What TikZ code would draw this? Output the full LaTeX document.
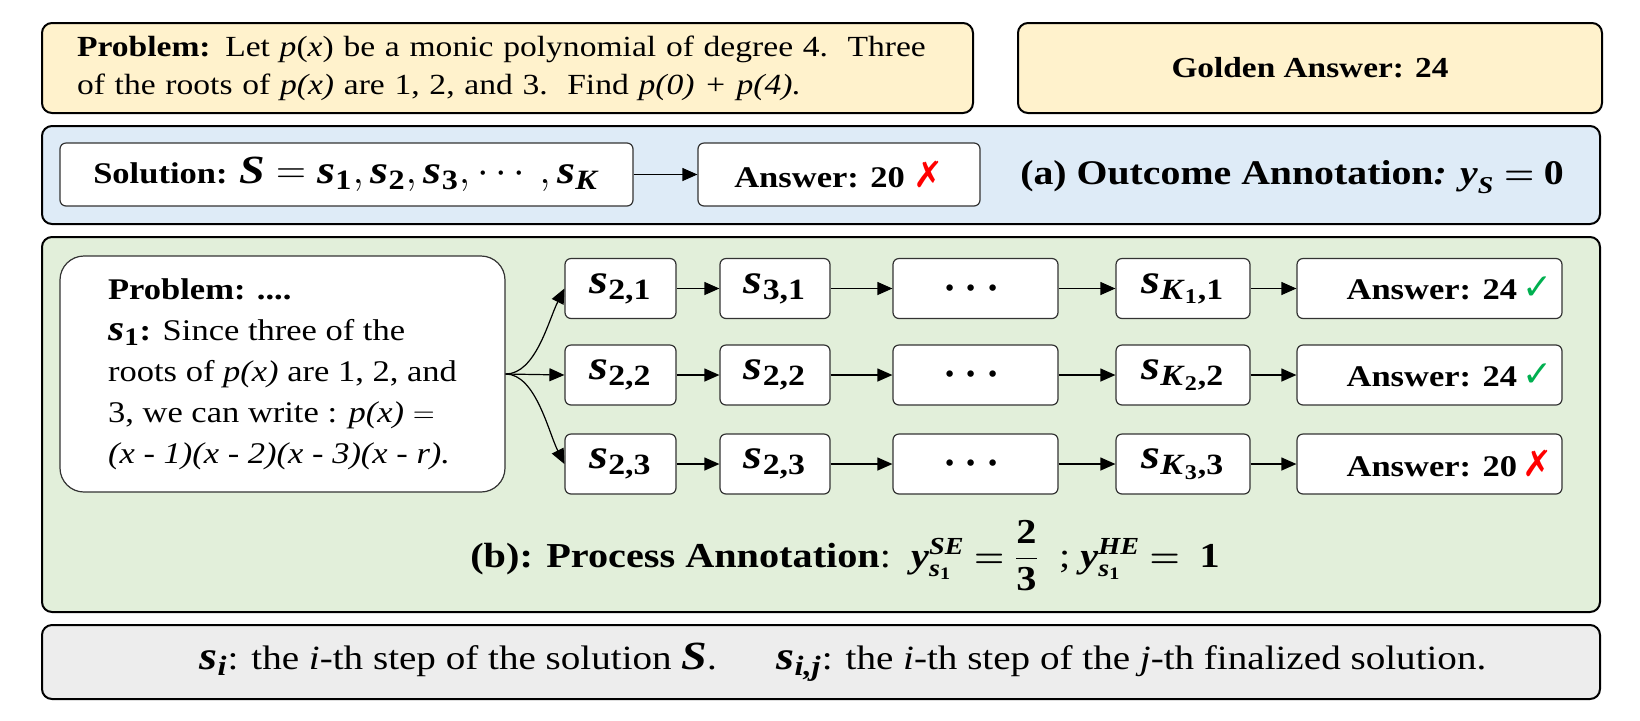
\documentclass[tikz,border=0pt]{standalone}
\usepackage{amsmath}
\usepackage{fontspec}
\setmainfont{Liberation Serif}[FakeStretch=1.15]
\newfontfamily\symfont{DejaVu Sans}
\usetikzlibrary{arrows.meta}
\definecolor{yel}{HTML}{FFF2CC}
\definecolor{blu}{HTML}{DEEBF7}
\definecolor{grn}{HTML}{E2EFDA}
\definecolor{gry}{HTML}{EDEDED}
\definecolor{okgreen}{HTML}{00B050}
\newcommand{\bi}[1]{\textbf{\textit{#1}}}
\newcommand{\bu}[1]{\textbf{#1}}
\newcommand{\yes}{{\symfont\color{okgreen}✓}}
\newcommand{\no}{{\symfont\color{red}✗}}
\begin{document}
\begin{tikzpicture}[x=0.5pt,y=-0.5pt,
  panel/.style={draw=black, line width=1pt, rounded corners=5pt, inner sep=0pt},
  box/.style={draw=black!80, line width=0.6pt, fill=white, rounded corners=3pt, inner sep=0pt,
    font=\fontsize{15}{18}\selectfont},
  stepbox/.style={box, minimum height=30pt, font=\fontsize{21}{22}\selectfont},
  arr/.style={-{Triangle[length=7.5pt,width=6.5pt]}, line width=0.6pt},
]
\useasboundingbox (0,0) rectangle (1640,720);
\fill[white] (0,0) rectangle (1640,720);
% top row
\node[panel, fill=yel, minimum width=465.5pt, minimum height=45pt, text width=430.5pt, align=left,
  font=\fontsize{14.6}{19}\selectfont] (prob) at (507.5,68)
  {\mbox{\textbf{Problem:} Let \textit{p}(\textit{x}) be a monic polynomial of degree 4.\ \ Three}\\
   \mbox{of the roots of \textit{p(x)} are 1, 2, and 3.\ \ Find \textit{p(0) + p(4).}}};
\node[panel, fill=yel, minimum width=292pt, minimum height=45pt,
  font=\fontsize{14.5}{18}\selectfont] (gold) at (1310,68) {\textbf{Golden Answer: 24}};
% outcome panel
\node[panel, fill=blu, minimum width=779pt, minimum height=49pt] (bluep) at (821,175) {};
\node[box, minimum width=286.5pt, minimum height=31.5pt] (sol) at (346.5,174.5)
  {\textbf{Solution:} {\fontsize{20}{20}\selectfont $\bi{S} = \bi{s}_{\bu{1}}, \bi{s}_{\bu{2}}, \bi{s}_{\bu{3}}, \cdots, \bi{s}_{\bi{K}}$}};
\node[box, minimum width=141pt, minimum height=31.5pt] (ansa) at (839,174.5)
  {\textbf{Answer: 20}\ {\fontsize{18}{18}\selectfont\no}};
\draw[arr] (sol) -- (ansa);
\node[font=\fontsize{17.3}{20}\selectfont] (outc) at (1292,177)
  {\textbf{(a) Outcome Annotation}\bi{:} $\bi{y}_{\bi{S}} \boldsymbol{=} \bu{0}$};
% process panel
\node[panel, fill=grn, minimum width=779pt, minimum height=187.5pt] (grnp) at (821,424.5) {};
\node[box, rounded corners=12pt, minimum width=222.5pt, minimum height=118pt, align=left,
  font=\fontsize{15}{20.5}\selectfont] (ip) at (282.5,374)
  {\textbf{Problem: ....}\\
   {\fontsize{18}{17}\selectfont$\bi{s}_{\bu{1}}$}\textbf{:} Since three of the\\
   roots of \textit{p(x)} are 1, 2, and\\
   3, we can write : \textit{p(x)} $=$\\
   \textit{(x - 1)(x - 2)(x - 3)(x - r).}};
% row 1
\node[stepbox, minimum width=55.5pt] (r1c1) at (620.5,288.5) {$\bi{s}_{\bu{2,1}}$};
\node[stepbox, minimum width=55pt] (r1c2) at (775,288.5) {$\bi{s}_{\bu{3,1}}$};
\node[stepbox, minimum width=82.5pt] (r1c3) at (975.5,288.5) {$\boldsymbol{\cdots}$};
\node[stepbox, minimum width=67pt] (r1c4) at (1183,288.5) {$\bi{s}_{\bi{K}_{\bu{1}}\bu{,1}}$};
\node[box, minimum width=132.5pt, minimum height=30pt] (r1c5) at (1429.5,288.5)
  {\hspace*{20pt}\textbf{Answer: 24}\,{\fontsize{18}{18}\selectfont\yes}};
% row 2
\node[stepbox, minimum width=55.5pt] (r2c1) at (620.5,375) {$\bi{s}_{\bu{2,2}}$};
\node[stepbox, minimum width=55pt] (r2c2) at (775,375) {$\bi{s}_{\bu{2,2}}$};
\node[stepbox, minimum width=82.5pt] (r2c3) at (975.5,375) {$\boldsymbol{\cdots}$};
\node[stepbox, minimum width=67pt] (r2c4) at (1183,375) {$\bi{s}_{\bi{K}_{\bu{2}}\bu{,2}}$};
\node[box, minimum width=132.5pt, minimum height=30pt] (r2c5) at (1429.5,375)
  {\hspace*{20pt}\textbf{Answer: 24}\,{\fontsize{18}{18}\selectfont\yes}};
% row 3
\node[stepbox, minimum width=55.5pt] (r3c1) at (620.5,464) {$\bi{s}_{\bu{2,3}}$};
\node[stepbox, minimum width=55pt] (r3c2) at (775,464) {$\bi{s}_{\bu{2,3}}$};
\node[stepbox, minimum width=82.5pt] (r3c3) at (975.5,464) {$\boldsymbol{\cdots}$};
\node[stepbox, minimum width=67pt] (r3c4) at (1183,464) {$\bi{s}_{\bi{K}_{\bu{3}}\bu{,3}}$};
\node[box, minimum width=132.5pt, minimum height=30pt] (r3c5) at (1429.5,464)
  {\hspace*{20pt}\textbf{Answer: 20}\,{\fontsize{18}{18}\selectfont\no}};
\foreach \r in {1,2,3}{
  \draw[arr] (r\r c1) -- (r\r c2);
  \draw[arr] (r\r c2) -- (r\r c3);
  \draw[arr] (r\r c3) -- (r\r c4);
  \draw[arr] (r\r c4) -- (r\r c5);
}
\draw[arr] (ip.east) .. controls +(30,0) and +(-16,32) .. (r1c1.west);
\draw[arr] (ip.east) -- (r2c1.west);
\draw[arr] (ip.east) .. controls +(30,0) and +(-16,-32) .. (r3c1.west);
\node[font=\fontsize{17.5}{20}\selectfont] (proc) at (845,556)
  {\textbf{(b): Process Annotation}:\ \ $\bi{y}^{\bi{SE}}_{\bi{s}_{\bu{1}}}\boldsymbol{=}\dfrac{\bu{2}}{\bu{3}}$\ \ ;\ $\bi{y}^{\bi{HE}}_{\bi{s}_{\bu{1}}}\boldsymbol{=}\ \bu{1}$};
% legend panel
\node[panel, fill=gry, minimum width=779pt, minimum height=37pt,
  font=\fontsize{17}{18}\selectfont] (leg) at (821,662)
  {\hspace*{22pt}{\fontsize{20}{19}\selectfont$\bi{s}_{\bi{i}}$}: the \textit{i}-th step of the solution {\fontsize{20}{19}\selectfont$\bi{S}$}.\hspace{30pt}%
   {\fontsize{20}{19}\selectfont$\bi{s}_{\bi{i,j}}$}: the \textit{i}-th step of the \textit{j}-th finalized solution.};
\end{tikzpicture}
\end{document}
